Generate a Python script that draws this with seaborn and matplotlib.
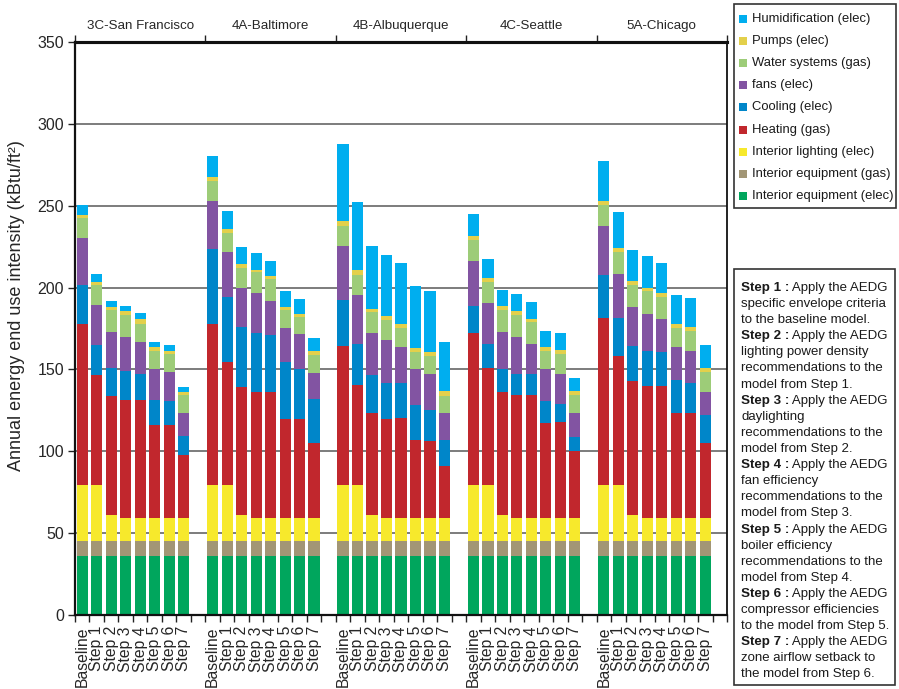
import numpy as np
import pandas as pd
import matplotlib
matplotlib.use("Agg")
import matplotlib.pyplot as plt
from matplotlib.patches import Rectangle
import seaborn as sns

# ---- data -----------------------------------------------------------------
cities = ["3C-San Francisco", "4A-Baltimore", "4B-Albuquerque", "4C-Seattle", "5A-Chicago"]
steps = ["Baseline", "Step 1", "Step 2", "Step 3", "Step 4", "Step 5", "Step 6", "Step 7"]

# end-use intensities (kBtu/ft2), 8 runs per city, cities in the order above
equip_elec = [36, 36, 36, 36, 36, 36, 36, 36,
              36, 36, 36, 36, 36, 36, 36, 36,
              36, 36, 36, 36, 36, 36, 36, 36,
              36, 36, 36, 36, 36, 36, 36, 36,
              36, 36, 36, 36, 36, 36, 36, 36]
equip_gas = [9, 9, 9, 9, 9, 9, 9, 9,
             9, 9, 9, 9, 9, 9, 9, 9,
             9, 9, 9, 9, 9, 9, 9, 9,
             9, 9, 9, 9, 9, 9, 9, 9,
             9, 9, 9, 9, 9, 9, 9, 9]
lighting = [34.5, 34.5, 16, 14.5, 14.5, 14.5, 14.5, 14.5,
            34.5, 34.5, 16, 14.5, 14.5, 14.5, 14.5, 14.5,
            34.5, 34.5, 16, 14.5, 14.5, 14.5, 14.5, 14.5,
            34.5, 34.5, 16, 14.5, 14.5, 14.5, 14.5, 14.5,
            34.5, 34.5, 16, 14.5, 14.5, 14.5, 14.5, 14.5]
heating = [98.5, 67, 73, 72, 72, 56.5, 56.5, 38,
           98.5, 75, 78, 77, 77, 60, 60, 45.5,
           85, 61, 62.5, 60.5, 61, 47.5, 47, 31.5,
           93, 71.5, 75.5, 75, 75, 58, 58.5, 40.5,
           102, 79, 82, 80.5, 80.5, 64, 64, 45.5]
cooling = [23.5, 18.5, 17, 17.5, 16, 15.5, 14.5, 12,
           45.5, 39.5, 37, 36, 34.5, 35, 30.5, 27,
           28, 25, 23, 22, 21, 21, 19, 16,
           16.5, 14.5, 14, 13, 13, 13.5, 11, 9,
           26, 23, 21.5, 21, 20.5, 20, 18, 17]
fans = [29, 24.5, 22, 21, 19, 19, 18, 14,
        29.5, 27.5, 24, 24, 21, 21, 21.5, 16,
        33, 30, 25.5, 26, 22.5, 22.5, 22, 16.5,
        27, 25, 22.5, 22.5, 18, 19.5, 18.5, 14.5,
        30, 26.5, 23.5, 23, 20, 20.5, 20, 14.5]
water = [12, 12, 13, 13.5, 11.5, 11, 11, 11,
         12, 12, 12, 13, 13, 11, 10.5, 11,
         12, 12, 13, 12, 11.5, 10, 10.5, 10.5,
         13, 13, 13, 13, 13.5, 11, 12, 11,
         13, 13.5, 13.5, 14, 13.5, 11.5, 12, 12]
pumps = [2, 2, 2, 2, 3, 2.5, 2, 2,
         2.5, 2.5, 2.5, 1.5, 2, 1.5, 2, 2.5,
         3, 3, 2, 2.5, 2.5, 2.5, 2.5, 3,
         2.5, 2.5, 2.5, 2.5, 2, 2, 2.5, 2.5,
         2.5, 2.5, 2.5, 2, 2.5, 2.5, 2.5, 2.5]
humid = [6, 4.5, 3.5, 3.5, 3.5, 3, 3.5, 3,
         13, 11, 10, 10, 9, 10, 9, 7.5,
         47, 42, 38.5, 37.5, 37, 38, 37.5, 30,
         13.5, 11.5, 10, 10.5, 10, 10, 10, 8,
         24.5, 22, 19, 19, 18.5, 17.5, 17.5, 14]

# stacking order, bottom to top
layer_names = ["Interior equipment (elec)", "Interior equipment (gas)", "Interior lighting (elec)",
               "Heating (gas)", "Cooling (elec)", "fans (elec)", "Water systems (gas)",
               "Pumps (elec)", "Humidification (elec)"]
layer_values = [equip_elec, equip_gas, lighting, heating, cooling, fans, water, pumps, humid]
layer_colors = ["#00A65D", "#A29675", "#F7E92C", "#C1272D", "#0086C9",
                "#8254A2", "#9DCC78", "#E3D04B", "#00AEEF"]

step_notes = [
    ("Step 1 :", " Apply the AEDG"), (None, "specific envelope criteria"), (None, "to the baseline model."),
    ("Step 2 :", " Apply the AEDG"), (None, "lighting power density"), (None, "recommendations to the"),
    (None, "model from Step 1."),
    ("Step 3 :", " Apply the AEDG"), (None, "daylighting"), (None, "recommendations to the"),
    (None, "model from Step 2."),
    ("Step 4 :", " Apply the AEDG"), (None, "fan efficiency"), (None, "recommendations to the"),
    (None, "model from Step 3."),
    ("Step 5 :", " Apply the AEDG"), (None, "boiler efficiency"), (None, "recommendations to the"),
    (None, "model from Step 4."),
    ("Step 6 :", " Apply the AEDG"), (None, "compressor efficiencies"), (None, "to the model from Step 5."),
    ("Step 7 :", " Apply the AEDG"), (None, "zone airflow setback to"), (None, "the model from Step 6."),
]

# ---- table ----------------------------------------------------------------
records = []
for ci, city in enumerate(cities):
    for si, step in enumerate(steps):
        records.append({"slot": f"{city}|{step}", "city": city, "step": step})
df = pd.DataFrame(records)
cum = np.zeros(len(df))
cum_cols = []
for li, vals in enumerate(layer_values):
    cum = cum + np.asarray(vals, dtype=float)
    col = f"top_{li}"
    df[col] = cum
    cum_cols.append(col)

# one empty slot after every city
order = []
for city in cities:
    order += [f"{city}|{s}" for s in steps] + [f"{city}|gap"]

# ---- figure ---------------------------------------------------------------
sns.set_theme(style="white")
plt.rcParams["font.family"] = ["Liberation Sans", "DejaVu Sans"]
plt.rcParams["text.color"] = "#1a1a1a"

W, H = 899, 689
fig = plt.figure(figsize=(W / 100, H / 100), dpi=100)
ax = fig.add_axes([75 / W, (H - 615) / H, 652 / W, 573 / H])

# draw cumulative tops from the highest layer down so each segment shows
for col, color in zip(reversed(cum_cols), reversed(layer_colors)):
    sns.barplot(data=df, x="slot", y=col, order=order, color=color, saturation=1,
                width=0.77, errorbar=None, linewidth=0, ax=ax, zorder=2)

ax.set_xlim(-0.5, len(order) - 0.5)
ax.set_ylim(0, 350)
ax.set_xlabel("")
ax.set_ylabel("Annual energy end use intensity (kBtu/ft²)", fontsize=13)
ax.yaxis.set_label_coords((25 - 75) / 652, (615 - 306) / 573)

# bottom axis: step names under bars, small ticks at every slot boundary
label_pos = [i for i, s in enumerate(order) if not s.endswith("|gap")]
label_txt = [order[i].split("|")[1] for i in label_pos]
ax.set_xticks(label_pos, label_txt, rotation=90, fontsize=11.3)
ax.set_xticks(np.arange(-0.5, len(order), 1.0), minor=True)
ax.tick_params(axis="x", which="major", length=0, pad=8)
ax.tick_params(axis="x", which="minor", length=5, width=1, direction="out", color="#222222", bottom=True)

ax.set_yticks(np.arange(0, 351, 50))
ax.tick_params(axis="y", length=5, width=1, direction="out", labelsize=11.5, color="#222222", left=True, pad=3)
ax.yaxis.grid(True, color="#666666", linewidth=1.2)
ax.set_axisbelow(True)

for side, lw in [("left", 1.6), ("bottom", 1.6), ("right", 1.3), ("top", 2.2)]:
    ax.spines[side].set_visible(True)
    ax.spines[side].set_color("#111111")
    ax.spines[side].set_linewidth(lw)

# top axis: city names and separators between cities
secax = ax.secondary_xaxis("top")
centers = [9 * i + 4 for i in range(len(cities))]
secax.set_xticks(centers, cities)
secax.set_xticks([9 * i - 0.5 for i in range(len(cities) + 1)], minor=True)
secax.tick_params(which="major", length=0, labelsize=9.6, pad=7)
secax.tick_params(which="minor", length=5, width=1, direction="out", color="#222222")
secax.spines["top"].set_linewidth(2.2)
secax.spines["top"].set_color("#111111")


def fx(x):
    return x / W


def fy(y):
    return 1 - y / H


# legend panel
fig.add_artist(Rectangle((fx(734), fy(208)), (896 - 734) / W, (208 - 4) / H,
                         transform=fig.transFigure, fill=False, edgecolor="#333333", linewidth=1.2))
for k, li in enumerate(reversed(range(len(layer_names)))):
    yc = 19 + 22.1 * k
    fig.add_artist(Rectangle((fx(739), fy(yc + 4)), 8 / W, 8 / H, transform=fig.transFigure,
                             facecolor=layer_colors[li], edgecolor="none"))
    fig.text(fx(752), fy(yc), layer_names[li], fontsize=9.4, va="center", ha="left")

# notes panel describing each step
fig.add_artist(Rectangle((fx(734), fy(685)), (895 - 734) / W, (685 - 269) / H,
                         transform=fig.transFigure, fill=False, edgecolor="#333333", linewidth=1.2))
fig.canvas.draw()
renderer = fig.canvas.get_renderer()
for k, (bold, rest) in enumerate(step_notes):
    yc = 288 + 16.1 * k
    x0 = fx(741)
    if bold:
        tb = fig.text(x0, fy(yc), bold, fontsize=9.6, fontweight="bold", va="center", ha="left")
        bb = tb.get_window_extent(renderer)
        x0 = bb.x1 / fig.bbox.width
    fig.text(x0, fy(yc), rest, fontsize=9.5, va="center", ha="left")

fig.savefig("out.png", dpi=100)
